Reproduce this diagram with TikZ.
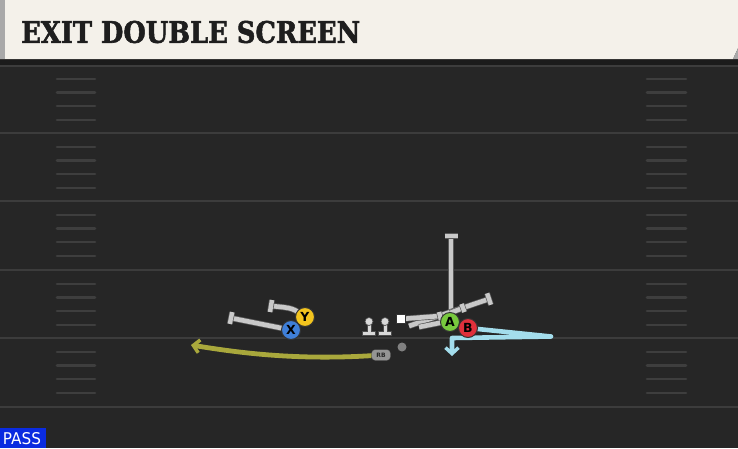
\documentclass[tikz,border=0pt]{standalone}
\usepackage{fontspec}
\usepackage{graphicx}
\setmainfont{DejaVu Serif}
\newfontfamily\sansf{DejaVu Sans}
\newfontfamily\titlef[FakeBold=2]{DejaVu Serif Bold}
\usetikzlibrary{arrows.meta}
\pgfdeclarelayer{fieldlayer}
\pgfdeclarelayer{routelayer}
\pgfsetlayers{fieldlayer,routelayer,main}
\definecolor{fieldbg}{HTML}{262626}
\definecolor{bandc}{HTML}{1B1B1B}
\definecolor{yardc}{HTML}{3C3C3C}
\definecolor{hashc}{HTML}{3E3E3E}
\definecolor{creamc}{HTML}{F4F1EA}
\definecolor{stripc}{HTML}{A9A9A9}
\definecolor{titlec}{HTML}{1E1E1E}
\definecolor{passc}{HTML}{0A2BE0}
\definecolor{routec}{HTML}{C9C9C9}
\definecolor{cyanc}{HTML}{A3DDEC}
\definecolor{olivec}{HTML}{A9A83C}
\definecolor{xblue}{HTML}{3F7FD8}
\definecolor{yyellow}{HTML}{F3C41E}
\definecolor{agreen}{HTML}{78C83E}
\definecolor{bred}{HTML}{E0303C}
\tikzset{
  yard/.style={draw=yardc, line width=2.6pt},
  hash/.style={draw=hashc, line width=2.6pt, line cap=round},
  blk/.style={draw=routec, line width=4.6pt, preaction={draw=black!65, line width=6pt}},
  tbar/.style={draw=routec, line width=4.4pt, preaction={draw=black!65, line width=5.8pt}},
  player/.style={circle, draw=black!80, line width=1pt, minimum size=19pt, inner sep=0pt, font=\sansf\bfseries\fontsize{12.5}{12.5}\selectfont, text=black},
  cyanroute/.style={draw=cyanc, line width=4.6pt, line join=round},
  oliveroute/.style={draw=olivec, line width=4.8pt, line cap=round},
  peg/.style={fill=black!15, draw=black!70, line width=0.7pt},
}
\begin{document}
\begin{tikzpicture}[x=1pt,y=-1pt]
\useasboundingbox (0,0) rectangle (738,448);
\begin{pgfonlayer}{fieldlayer}
\fill[fieldbg] (0,0) rectangle (738,448);
\fill[bandc] (0,59) rectangle (738,65);
\foreach \y in {66,133,201,270,338,407} \draw[yard] (0,\y) -- (738,\y);
\foreach \b in {65,133,201,270,338} {
  \foreach \d in {14,27.5,41,55} {
    \draw[hash] (57,\b+\d) -- (95,\b+\d);
    \draw[hash] (647,\b+\d) -- (686,\b+\d);
  }
}
\fill[creamc] (0,0) -- (738,0) -- (738,48) -- (733,59) -- (0,59) -- cycle;
\fill[stripc] (0,0) rectangle (5,59);
\fill[stripc] (738,48) -- (738,59) -- (733,59) -- cycle;
\fill[passc] (0,428) rectangle (46,448);
\end{pgfonlayer}

\node[anchor=west, inner sep=0pt, text=titlec] (title) at (21,32) {\resizebox{339pt}{22pt}{\titlef EXIT DOUBLE SCREEN}};
\node[inner sep=0pt, text=white] (pass) at (22,438.5) {\resizebox{38pt}{12pt}{\sansf PASS}};

% player nodes
\node[player, fill=xblue] (X) at (291,330) {X};
\node[player, fill=yyellow] (Y) at (305,317) {Y};
\node[player, fill=agreen] (A) at (450,322) {A};
\node[player, fill=bred] (B) at (468,328) {B};
\node[draw=black!80, fill=white, minimum size=9pt, inner sep=0pt] (sq) at (401,319) {};
\node[circle, fill=black!50, minimum size=9pt, inner sep=0pt] (ball) at (402,347) {};
\node[draw=black!80, fill=black!42, rounded corners=3.5pt, minimum width=19pt, minimum height=11pt, inner sep=0pt, font=\sansf\bfseries\fontsize{6}{6}\selectfont, text=black!85] (RB) at (381,355) {RB};

% linemen pegs
\foreach \px/\nm in {369/l1,385/l2} {
  \path[peg] (\px-6.5,335.5) -- (\px+6.5,335.5) -- (\px+6.5,331) -- (\px+2,331) -- (\px+2,324) -- (\px-2,324) -- (\px-2,331) -- (\px-6.5,331) -- cycle;
  \node[circle, peg, minimum size=8pt, inner sep=0pt] (\nm) at (\px,321.5) {};
}

% coordinates for route ends
\coordinate (xe) at (231,318);
\coordinate (xb1) at (232.2,312.1);
\coordinate (xb2) at (229.8,323.9);
\coordinate (ye) at (271,306);
\coordinate (yb1) at (272,300);
\coordinate (yb2) at (270,312);
\coordinate (ve) at (451,236);
\coordinate (vb1) at (444.5,236);
\coordinate (vb2) at (457.5,236);
\coordinate (vs) at (451,318);
\coordinate (ds) at (409,326);
\coordinate (de) at (489,299);
\coordinate (db1) at (487.1,293.3);
\coordinate (db2) at (490.9,304.7);
\coordinate (cs) at (419,327);
\coordinate (ce) at (444,322);
\coordinate (se) at (440,316);
\coordinate (sb1) at (439,312);
\coordinate (sb2) at (441,320);
\coordinate (te) at (463,308);
\coordinate (tb1) at (461.5,304);
\coordinate (tb2) at (464.5,312);
\coordinate (ts) at (450,313);
\coordinate (c1) at (551,336.5);
\coordinate (c2) at (452,338);
\coordinate (c3) at (452,356);
\coordinate (r1) at (191,345);

\begin{pgfonlayer}{routelayer}
\draw[blk] (X.center) -- (xe);
\draw[tbar] (xb1) -- (xb2);
\draw[blk] (Y.center) .. controls (293,308) .. (ye);
\draw[tbar] (yb1) -- (yb2);
\draw[blk] (vs) -- (ve);
\draw[tbar] (vb1) -- (vb2);
\draw[blk] (ds) -- (de);
\draw[tbar] (db1) -- (db2);
\draw[blk] (cs) -- (ce);
\draw[blk] (sq.center) -- (se);
\draw[tbar] (sb1) -- (sb2);
\draw[blk] (ts) -- (te);
\draw[tbar] (tb1) -- (tb2);
\draw[cyanroute, -{Straight Barb[length=6pt,width=13pt,line width=3.5pt]}] (B.center) -- (c1) -- (c2) -- (c3);
\draw[oliveroute, -{Straight Barb[length=6pt,width=13pt,line width=3.5pt]}] (RB.center) .. controls (300,361) and (240,353) .. (r1);
\end{pgfonlayer}
\end{tikzpicture}
\end{document}
